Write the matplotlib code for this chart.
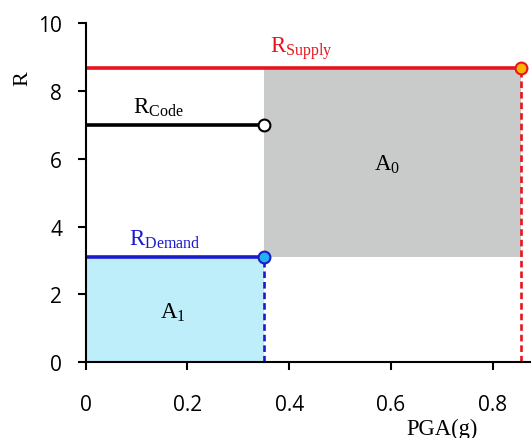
import matplotlib
matplotlib.use("Agg")
import matplotlib.pyplot as plt

# Data
pga_demand = 0.35     # PGA(g) at demand / code level
pga_supply = 0.855    # PGA(g) at supply
r_supply = 8.67
r_code = 7.0
r_demand = 3.1
x_ticks = [0, 0.2, 0.4, 0.6, 0.8]
x_tick_labels = ["0", "0.2", "0.4", "0.6", "0.8"]
y_ticks = [0, 2, 4, 6, 8, 10]
y_tick_labels = ["0", "2", "4", "6", "8", "10"]

plt.rcParams['mathtext.fontset'] = 'custom'
plt.rcParams['mathtext.rm'] = 'Liberation Serif'
plt.rcParams['mathtext.it'] = 'Liberation Serif:italic'

fig = plt.figure(figsize=(5.31, 4.39), dpi=100)
ax = fig.add_axes([85.7/531, 1-363.3/439, 1-85.7/531, (363.3-24)/439])

red = '#e8141c'
blue = '#1a1acc'
gray = '#c9caca'
lightblue = '#bdeef9'

# Areas
ax.fill_between([0, pga_demand], 0, r_demand, color=lightblue, lw=0, zorder=1)
ax.fill_between([pga_demand, pga_supply], r_demand, r_supply, color=gray, lw=0, zorder=1)

# Lines
ax.plot([0, pga_supply], [r_supply, r_supply], color=red, lw=2.6, zorder=3, solid_capstyle='butt')
ax.plot([pga_supply, pga_supply], [0, r_supply], color=red, lw=1.9, ls=(0, (2.5, 1.5)), zorder=3)
ax.plot([0, pga_demand], [r_code, r_code], color='black', lw=2.6, zorder=3, solid_capstyle='butt')
ax.plot([0, pga_demand], [r_demand, r_demand], color=blue, lw=2.6, zorder=3, solid_capstyle='butt')
ax.plot([pga_demand, pga_demand], [0, r_demand], color=blue, lw=1.9, ls=(0, (2.5, 1.5)), zorder=3)

# Markers
ax.plot([pga_supply], [r_supply], 'o', ms=8.5, mfc='#f7b500', mec=red, mew=1.5, zorder=5, clip_on=False)
ax.plot([pga_demand], [r_code], 'o', ms=8.5, mfc='white', mec='black', mew=1.5, zorder=5)
ax.plot([pga_demand], [r_demand], 'o', ms=8.5, mfc='#22b2f0', mec=blue, mew=1.5, zorder=5)

# Labels
ax.text(0.423, 9.14, r'$\mathrm{R}_{\mathrm{Supply}}$', color=red, fontsize=16.5, ha='center', va='baseline')
ax.text(0.142, 7.35, r'$\mathrm{R}_{\mathrm{Code}}$', color='black', fontsize=16.5, ha='center', va='baseline')
ax.text(0.155, 3.46, r'$\mathrm{R}_{\mathrm{Demand}}$', color=blue, fontsize=16.5, ha='center', va='baseline')
ax.text(0.593, 5.67, r'$\mathrm{A}_{0}$', color='black', fontsize=16.5, ha='center', va='baseline')
ax.text(0.171, 1.30, r'$\mathrm{A}_{1}$', color='black', fontsize=16.5, ha='center', va='baseline')

ax.set_xlim(0, (531-85.7)/508.75)
ax.set_ylim(0, 10)
ax.spines['top'].set_visible(False)
ax.spines['right'].set_visible(False)
for s in ['left', 'bottom']:
    ax.spines[s].set_linewidth(1.5)
    ax.spines[s].set_zorder(6)

ax.set_xticks(x_ticks)
ax.set_xticklabels(x_tick_labels, family='Open Sans', fontsize=15)
ax.set_yticks(y_ticks)
ax.set_yticklabels(y_tick_labels, family='Open Sans', fontsize=15)
ax.tick_params(axis='x', direction='out', length=6, width=1.5, pad=17)
ax.tick_params(axis='y', direction='out', length=6, width=1.5, pad=11)

fig.text(23/531, 1-79/439, 'R', family='Liberation Serif', fontsize=16, rotation=90, ha='center', va='center')
fig.text(441.7/531, 1-435/439, 'PGA(g)', family='Liberation Serif', fontsize=16.3, ha='center', va='baseline')

fig.savefig('out.png', dpi=100)
